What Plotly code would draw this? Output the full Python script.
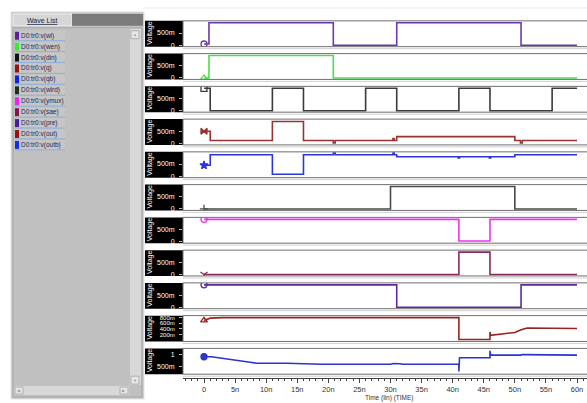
import plotly.graph_objects as go

W, H = 587, 403

# ---- signal data (time in ns, value in V) ----
signal_names = ["D0:tr0:v(wl)", "D0:tr0:v(wen)", "D0:tr0:v(din)", "D0:tr0:v(q)",
                "D0:tr0:v(qb)", "D0:tr0:v(wlrd)", "D0:tr0:v(ymux)", "D0:tr0:v(sae)",
                "D0:tr0:v(pre)", "D0:tr0:v(out)", "D0:tr0:v(outb)"]

wl_t = [0, 0.8, 20.8, 31.0, 51.0, 60]
wl_v = [0.05, 0.92, 0.0, 0.92, 0.0, 0.0]

wen_t = [0, 0.8, 20.8, 60]
wen_v = [0.0, 0.92, 0.0, 0.0]

din_t = [0, 1, 11, 16, 26, 31, 41, 46, 56, 60]
din_v = [0.92, 0.0, 0.92, 0.0, 0.92, 0.0, 0.92, 0.0, 0.92, 0.92]

q_t = [0, 1, 11, 16, 20.8, 21.1, 30.4, 30.6, 31, 50, 50.9, 51.2, 60]
q_v = [0.5, 0.12, 0.9, 0.12, 0.02, 0.12, 0.2, 0.12, 0.28, 0.12, 0.02, 0.12, 0.12]

qb_t = [0, 1, 11, 16, 20.8, 21.1, 30.4, 30.6, 31, 40.9, 41.1, 45.9, 46.1, 50, 60]
qb_v = [0.45, 0.88, 0.08, 0.88, 0.95, 0.88, 0.95, 0.88, 0.8, 0.75, 0.8, 0.75, 0.8, 0.88, 0.88]

wlrd_t = [0, 30, 50, 60]
wlrd_v = [0.0, 0.92, 0.0, 0.0]

ymux_t = [0, 41, 46, 60]
ymux_v = [0.92, 0.03, 0.92, 0.92]

sae_t = [0, 41, 46, 60]
sae_v = [0.0, 0.92, 0.0, 0.0]

pre_t = [0, 31, 51, 60]
pre_v = [0.92, 0.0, 0.92, 0.92]

out_t = [0, 1, 3, 41, 41, 46, 46, 46.1, 50, 51, 52, 57, 57.5, 60]
out_v = [0.7, 0.78, 0.8, 0.8, 0.02, 0.02, 0.29, 0.17, 0.27, 0.37, 0.43, 0.43, 0.41, 0.41]

outb_t = [0, 1.2, 7.4, 8.5, 13.3, 18.9, 30, 30.5, 31.5, 32, 41, 41, 41.1, 46, 46, 46.1, 51, 51.2, 60]
outb_v = [0.9, 0.9, 0.67, 0.63, 0.63, 0.585, 0.585, 0.62, 0.61, 0.585, 0.585, 0.28, 0.86, 0.86,
          1.15, 0.97, 0.97, 0.99, 0.97]

times = [wl_t, wen_t, din_t, q_t, qb_t, wlrd_t, ymux_t, sae_t, pre_t, out_t, outb_t]
values = [wl_v, wen_v, din_v, q_v, qb_v, wlrd_v, ymux_v, sae_v, pre_v, out_v, outb_v]
digital = [True, True, True, True, True, True, True, True, True, False, False]

line_colors = ["#6a3aa8", "#4ddd4d", "#3a3a3a", "#993333", "#2a35dd", "#454e45",
               "#ee33ee", "#8a2a5a", "#5a2a9e", "#992222", "#2a35cc"]
swatch_colors = ["#5a1f9a", "#33ee33", "#101010", "#9a1010", "#1020e8", "#1a301a",
                 "#f020f0", "#8a1050", "#4a1a9a", "#9a1010", "#1030e8"]
start_symbols = ["circle-open", "triangle-up-open", "square-open", "bowtie", "star",
                 "cross-thin-open", "circle-open", "y-down-open", "circle-open",
                 "triangle-up-open", "circle"]

# y-axis ranges and tick labels for each strip
dig_range = [-0.06, 1.0]
y_ranges = [dig_range] * 9 + [[-0.05, 0.87], [0.17, 1.25]]
y_tickvals = [[0, 0.5]] * 9 + [[0.2, 0.4, 0.6, 0.8], [0.5, 1.0]]
y_ticktext = [["0", "500m"]] * 9 + [["200m", "400m", "600m", "800m"], ["500m", "1"]]

time_tickvals = [0, 5, 10, 15, 20, 25, 30, 35, 40, 45, 50, 55, 60]
time_ticktext = ["0", "5n", "10n", "15n", "20n", "25n", "30n", "35n", "40n", "45n", "50n", "55n", "60n"]


def px(x):
    return x / W


def py(y):
    return 1 - y / H


# strip geometry in pixels
STRIP_TOP0, STRIP_H, STRIP_PITCH = 20, 26, 33
PLOT_LEFT = 183
LABEL_LEFT = 145
t_at_left = (PLOT_LEFT - 204) / ((577 - 204) / 60)
t_at_right = (W - 204) / ((577 - 204) / 60)

fig = go.Figure()
shapes = []
annotations = []
layout_axes = {}

FONT = "Liberation Sans, Arial, sans-serif"


def text(x, y, s, size, color, xanchor="center", angle=0):
    annotations.append(dict(xref="paper", yref="paper", x=px(x), y=py(y),
                            xanchor=xanchor, yanchor="middle", text=s, textangle=angle,
                            showarrow=False, borderpad=0,
                            font=dict(color=color, size=size, family=FONT)))


for i in range(11):
    top = STRIP_TOP0 + i * STRIP_PITCH
    bot = top + STRIP_H
    yname = "yaxis" if i == 0 else f"yaxis{i + 1}"
    yref = "y" if i == 0 else f"y{i + 1}"
    small = i == 9
    layout_axes[yname] = dict(
        domain=[py(bot), py(top)], range=y_ranges[i], anchor="x",
        tickmode="array", tickvals=y_tickvals[i], ticktext=y_ticktext[i],
        tickfont=dict(color="white", size=6 if small else 7, family=FONT),
        ticks="outside", ticklen=3, tickcolor="#bbbbbb", ticklabelstandoff=3,
        showgrid=False, zeroline=False, showline=False, fixedrange=True,
    )
    fig.add_trace(go.Scatter(
        x=times[i], y=values[i], mode="lines", yaxis=yref, xaxis="x",
        line=dict(color=line_colors[i], width=1.6, shape="hv" if digital[i] else "linear"),
        hoverinfo="skip", showlegend=False,
    ))
    fig.add_trace(go.Scatter(
        x=[times[i][0]], y=[values[i][0]], mode="markers", yaxis=yref, xaxis="x",
        marker=dict(symbol=start_symbols[i], size=6, color=line_colors[i],
                    line=dict(color=line_colors[i], width=1.3)),
        hoverinfo="skip", showlegend=False,
    ))
    # black label box on the left of each strip
    shapes.append(dict(type="rect", xref="paper", yref="paper", layer="below",
                       x0=px(LABEL_LEFT), x1=px(PLOT_LEFT), y0=py(bot), y1=py(top),
                       fillcolor="black", line=dict(width=0)))
    text(150, (top + bot) / 2, "Voltage", 7, "white", angle=-90)
    # strip frame
    shapes.append(dict(type="rect", xref="paper", yref="paper", layer="above",
                       x0=px(PLOT_LEFT), x1=px(W + 3), y0=py(bot), y1=py(top),
                       line=dict(color="#707070", width=1)))
    shapes.append(dict(type="line", xref="paper", yref="paper", layer="below",
                       x0=px(PLOT_LEFT), x1=px(W), y0=py(bot + 2), y1=py(bot + 2),
                       line=dict(color="#d0d0d0", width=1)))

# faint line along the top of the waveform window
shapes.append(dict(type="line", xref="paper", yref="paper", layer="below",
                   x0=px(143), x1=1, y0=py(7), y1=py(7), line=dict(color="#f3e4e8", width=1)))


# ---- left "Wave List" panel ----
def rect(x0, y0, x1, y1, fill, line="rgba(0,0,0,0)", lw=0):
    shapes.append(dict(type="rect", xref="paper", yref="paper", layer="below",
                       x0=px(x0), x1=px(x1), y0=py(y1), y1=py(y0),
                       fillcolor=fill, line=dict(color=line, width=lw)))


rect(11, 11, 144, 401, "#c0c0c0", "#e4e4e4", 1)
rect(13, 13, 72, 25, "#d6d6d6", "#f0f0f0", 1)
rect(72, 13, 143, 25, "#7b7b7b")
text(42, 19.5, "<u>Wave List</u>", 7, "#1a1a3a")
rect(13, 27, 142, 399, "#c0c0c0", "#a8a8a8", 1)
# vertical scrollbar
rect(130, 28, 141, 387, "#d8d8d8")
rect(131, 30, 139, 38, "#e6e6e6", "#b0b0b0", 1)
rect(131, 378, 139, 386, "#e6e6e6", "#b0b0b0", 1)
text(135, 34, "▲", 4, "#999999")
text(135, 382, "▼", 4, "#999999")
# horizontal scrollbar
rect(14, 388, 129, 397, "#d8d8d8")
rect(15, 389, 23, 396, "#e6e6e6", "#b0b0b0", 1)
rect(120, 389, 128, 396, "#e6e6e6", "#b0b0b0", 1)
text(19, 392.5, "◀", 4, "#999999")
text(124, 392.5, "▶", 4, "#999999")

for i, name in enumerate(signal_names):
    cy = 35 + i * 11
    rect(15, cy - 5, 65, cy + 4, "#c6c6c6")
    shapes.append(dict(type="line", xref="paper", yref="paper", layer="below",
                       x0=px(15), x1=px(65), y0=py(cy + 5), y1=py(cy + 5),
                       line=dict(color="#8fb0d8", width=1)))
    rect(15, cy - 4, 19, cy + 4, swatch_colors[i])
    text(19.5, cy, name, 6.5, "#262650", xanchor="left")

text(389, 399.5, "Time (lin) (TIME)", 6.5, "#333333")

fig.update_layout(
    width=W, height=H, margin=dict(l=0, r=0, t=0, b=0),
    paper_bgcolor="white", plot_bgcolor="rgba(0,0,0,0)",
    showlegend=False, shapes=shapes, annotations=annotations,
    xaxis=dict(
        domain=[px(PLOT_LEFT), 1], range=[t_at_left, t_at_right],
        anchor="free", position=py(380),
        tickmode="array", tickvals=time_tickvals, ticktext=time_ticktext,
        ticks="outside", ticklen=4, tickcolor="#444444",
        minor=dict(tickmode="linear", tick0=0, dtick=1, ticks="outside",
                   ticklen=2, tickcolor="#444444"),
        tickfont=dict(size=7.5, color="#333333", family=FONT),
        showline=True, linecolor="#444444", linewidth=1,
        showgrid=False, zeroline=False, fixedrange=True,
    ),
    **layout_axes,
)

fig.write_html("out.html", config={"displayModeBar": False})
